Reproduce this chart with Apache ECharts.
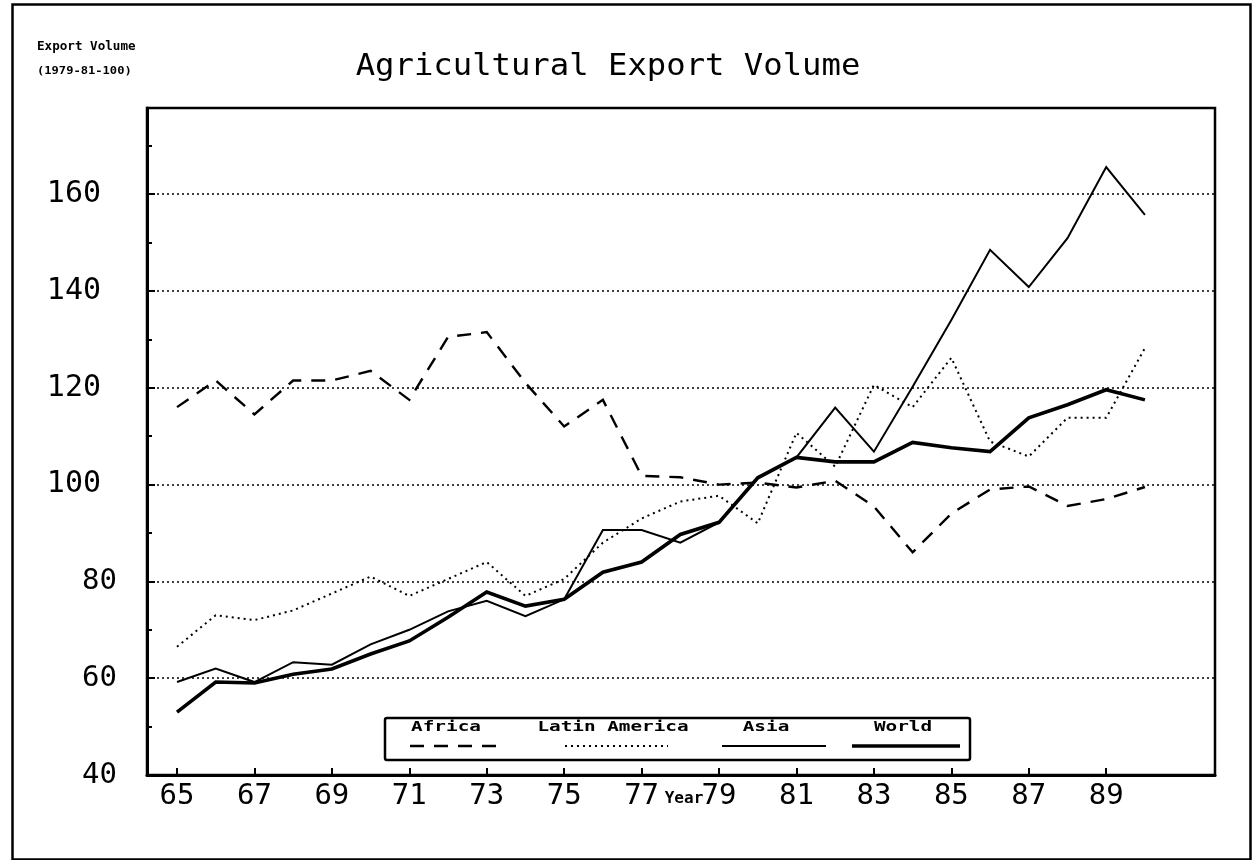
<!DOCTYPE html>
<html>
<head>
<meta charset="utf-8">
<script src="https://cdn.jsdelivr.net/npm/echarts@6/dist/echarts.min.js"></script>
<style>
html,body{margin:0;padding:0;background:#fff;}
#chart{width:1255px;height:860px;}
</style>
</head>
<body>
<div id="chart"></div>
<script>
const years = [65,66,67,68,69,70,71,72,73,74,75,76,77,78,79,80,81,82,83,84,85,86,87,88,89,90];
const africa = [116,121.5,114.5,121.5,121.5,123.5,117.5,130.5,131.5,121,112,117.5,101.8,101.5,100,100.4,99.4,100.8,95.5,86,94,99,99.6,95.6,97,99.5];
const latinAmerica = [66.5,73,72,74,77.5,81,77,80.5,84,77,80.5,88,93,96.5,97.7,92,110.7,103.7,120.6,116,126.2,108.9,105.8,113.8,113.8,128.2];
const asia = [59.2,62,59.2,63.3,62.8,67,70,73.8,76,72.8,76.3,90.6,90.6,88,92.2,101.4,105.6,115.9,106.8,120.2,134,148.5,140.8,150.9,165.6,155.7];
const world = [53,59.2,59,60.8,61.9,65,67.7,72.6,77.8,74.9,76.3,81.9,84,89.7,92.2,101.4,105.6,104.7,104.7,108.7,107.6,106.8,113.8,116.5,119.6,117.5];
const xTickLabels = [65,67,69,71,73,75,77,79,81,83,85,87,89];
const yLabelValues = [40,60,80,100,120,140,160];
const yMinorValues = [50,70,90,110,130,150,170];
const gridValues = [60,80,100,120,140,160];
const seriesNames = ['Africa','Latin America','Asia','World'];

const pairs = arr => years.map((y,i)=>[y,arr[i]]);
const MONO = '"DejaVu Sans Mono"';

const chart = echarts.init(document.getElementById('chart'), null, {renderer:'canvas'});
const styles = [
  {width:2.4, type:[14,10]},
  {width:2, type:[2,4]},
  {width:2, type:'solid'},
  {width:3.6, type:'solid'}
];
const data = [africa, latinAmerica, asia, world];
const legendPos = [446, 613, 766, 903];
const legendLines = [[410,500],[565,668],[722,826],[852,960]];

const graphics = [
  {type:'rect', left:10, top:2, shape:{width:1238, height:855}, style:{fill:'none', stroke:'#000', lineWidth:2.5}, silent:true},
  {type:'text', x:608, y:67, scaleX:1.04, style:{text:'Agricultural Export Volume', font:'31px ' + MONO, fill:'#000', align:'center', verticalAlign:'middle'}},
  {type:'text', x:37, y:47, scaleX:1.05, style:{text:'Export Volume', font:'bold 12px ' + MONO, fill:'#000', align:'left', verticalAlign:'middle'}},
  {type:'text', x:37, y:71, scaleX:1.1, style:{text:'(1979-81-100)', font:'bold 11px ' + MONO, fill:'#000', align:'left', verticalAlign:'middle'}},
  {type:'text', x:684, y:799, style:{text:'Year', font:'bold 16px ' + MONO, fill:'#000', align:'center', verticalAlign:'middle'}, z:12},
  {type:'rect', shape:{x:385, y:718, width:585, height:42, r:2}, style:{fill:'#fff', stroke:'#000', lineWidth:2.5}, z:10}
];
seriesNames.forEach((n,i)=>{
  graphics.push({type:'text', x:legendPos[i], y:727, scaleX:1.38,
    style:{text:n, font:'bold 14px ' + MONO, fill:'#000', align:'center', verticalAlign:'middle'}, z:11});
  const ls = {stroke:'#000', lineWidth:styles[i].width};
  if (Array.isArray(styles[i].type)) ls.lineDash = styles[i].type;
  graphics.push({type:'line', shape:{x1:legendLines[i][0], y1:746, x2:legendLines[i][1], y2:746}, style:ls, z:11});
});

const Y_MIN = 40, Y_MAX = 177.8;

chart.setOption({
  backgroundColor:'#fff',
  animation:false,
  grid:{left:147, right:40, top:108, bottom:85, show:true, borderColor:'#000', borderWidth:2.5, backgroundColor:'transparent'},
  xAxis:{
    type:'value', min:64.225, max:91.81,
    axisLine:{show:true, lineStyle:{color:'#000', width:3}},
    axisTick:{show:true, inside:true, length:7, customValues:xTickLabels, lineStyle:{color:'#000', width:2}},
    axisLabel:{customValues:xTickLabels, fontFamily:'DejaVu Sans Mono', fontSize:29, color:'#000', margin:7},
    splitLine:{show:false}
  },
  yAxis:[{
    type:'value', min:Y_MIN, max:Y_MAX,
    axisLine:{show:true, lineStyle:{color:'#000', width:3}},
    axisTick:{show:true, inside:true, length:8, customValues:yLabelValues, lineStyle:{color:'#000', width:2}},
    axisLabel:{customValues:yLabelValues, color:'#000', margin:30,
      formatter:v => v >= 100 ? '{w|' + v + '}' : '{n|' + v + '}',
      rich:{
        w:{fontFamily:'DejaVu Sans Mono', fontSize:30, color:'#000', padding:[0,16,0,0]},
        n:{fontFamily:'DejaVu Sans Mono', fontSize:29, color:'#000'}
      }},
    splitLine:{show:false}
  },{
    type:'value', min:Y_MIN, max:Y_MAX, position:'left',
    axisLine:{show:false},
    axisTick:{show:true, inside:true, length:5, customValues:yMinorValues, lineStyle:{color:'#000', width:2}},
    axisLabel:{show:false},
    splitLine:{show:false}
  }],
  series: seriesNames.map((n,i)=>({
    name:n, type:'line', data:pairs(data[i]), symbol:'none', smooth:false,
    lineStyle:{color:'#000', width:styles[i].width, type:styles[i].type, cap:'butt', join:'miter'},
    z: 3+i
  })).concat([{
    name:'grid', type:'line', data:[], silent:true,
    markLine:{silent:true, symbol:'none', label:{show:false},
      lineStyle:{color:'#000', width:1.7, type:[2,3]},
      data:gridValues.map(v=>({yAxis:v}))},
    z:2
  }]),
  graphic:graphics
});
</script>
</body>
</html>
